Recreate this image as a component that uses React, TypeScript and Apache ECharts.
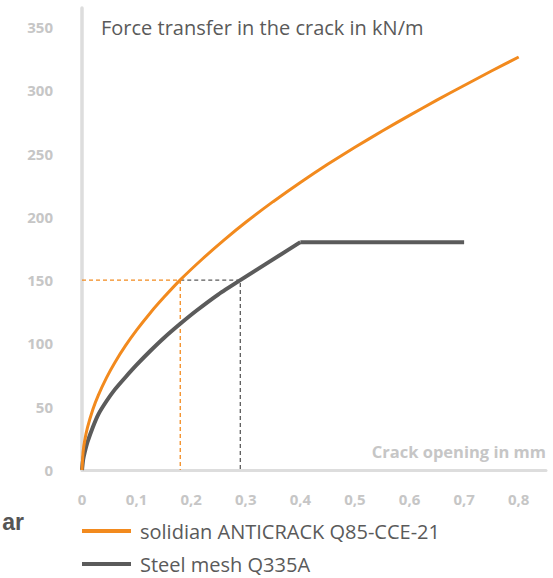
import React, { useEffect, useRef } from "react";
import * as echarts from "echarts";

// Crack opening (mm) and force transfer (kN/m)
const anticrackX = [0, 0.002, 0.005, 0.01, 0.02, 0.03, 0.045, 0.06, 0.08, 0.1, 0.125, 0.15, 0.18, 0.22, 0.26, 0.3, 0.35, 0.4, 0.45, 0.5, 0.55, 0.6, 0.65, 0.7, 0.75, 0.8];
const anticrackY = [0, 14.4, 23.2, 33.4, 48, 59.2, 73, 84.8, 98.4, 110.5, 124.1, 136.4, 150.2, 166.5, 181.6, 195.7, 212, 227.2, 241.5, 255, 267.8, 280.2, 292.2, 303.8, 315.2, 326.3];

const steelX = [0, 0.002, 0.005, 0.01, 0.02, 0.03, 0.045, 0.06, 0.08, 0.1, 0.125, 0.15, 0.18, 0.21, 0.25, 0.29, 0.345, 0.4];
const steelY = [0, 8, 14, 22, 34, 44, 54.5, 63.5, 73.5, 83, 94, 104.3, 115.5, 126, 138.8, 150, 165, 180];
const steelPlateauX = [0.4, 0.7];
const steelPlateauY = [180, 180];

const anticrackRefX = [0, 0.18, 0.18];
const anticrackRefY = [150, 150, 0];
const steelRefX = [0.18, 0.29, 0.29];
const steelRefY = [150, 150, 0];

const seriesNames = ["solidian ANTICRACK Q85-CCE-21", "Steel mesh Q335A"];
const titleText = "Force transfer in the crack in kN/m";
const xAxisTitle = "Crack opening in mm";

const ORANGE = "#f28a1e";
const GREY = "#5b5b5b";
const AXIS = "#dddddd";
const LABEL = "#c6c6c6";
const TEXT = "#5a5a5a";
const FONT = "'Open Sans', 'Noto Sans', sans-serif";

const zip = (xs: number[], ys: number[]) => xs.map((x, i) => [x, ys[i]]);

const legendBase = {
  orient: "vertical",
  left: 77,
  itemWidth: 49,
  itemHeight: 4,
  icon: "rect",
  selectedMode: false,
  textStyle: { color: TEXT, fontSize: 20, fontFamily: FONT, padding: [0, 0, 0, 4] },
};

export default function App() {
  const ref = useRef<HTMLDivElement>(null);
  useEffect(() => {
    if (!ref.current) return;
    const chart = echarts.init(ref.current, undefined, { renderer: "svg" });
    chart.setOption({
      animation: false,
      backgroundColor: "#ffffff",
      textStyle: { fontFamily: FONT },
      grid: { left: 82, right: 7, top: 8, bottom: 108, containLabel: false },
      xAxis: {
        type: "value",
        min: 0,
        max: 0.85,
        interval: 0.1,
        axisLine: { show: true, lineStyle: { color: AXIS, width: 3 } },
        axisTick: { show: false },
        splitLine: { show: false },
        axisLabel: {
          color: LABEL,
          fontFamily: FONT,
          fontWeight: "bold",
          fontSize: 15,
          margin: 21,
          showMaxLabel: false,
          formatter: (v: number) => {
            const r = Math.round(v * 10);
            if (Math.abs(v * 10 - r) > 0.01 || r > 8) return "";
            return r === 0 ? "0" : "0," + r;
          },
        },
      },
      yAxis: {
        type: "value",
        min: 0,
        max: 365,
        interval: 50,
        axisLine: { show: true, lineStyle: { color: AXIS, width: 3.5 } },
        axisTick: { show: false },
        splitLine: { show: false },
        axisLabel: {
          color: LABEL,
          fontFamily: FONT,
          fontWeight: "bold",
          fontSize: 15,
          margin: 29,
          formatter: (v: number) => (v % 50 === 0 ? String(v) : ""),
        },
      },
      legend: [
        { ...legendBase, top: 516, data: [seriesNames[0]] },
        { ...legendBase, top: 549, data: [seriesNames[1]] },
      ],
      graphic: [
        {
          type: "text",
          x: 101,
          y: 27,
          style: { text: titleText, fill: TEXT, font: `20px ${FONT}`, verticalAlign: "middle" },
        },
        {
          type: "text",
          x: 546,
          y: 451,
          style: {
            text: xAxisTitle,
            fill: LABEL,
            font: `bold 16.5px ${FONT}`,
            align: "right",
            verticalAlign: "middle",
          },
        },
        {
          type: "text",
          x: 24,
          y: 522,
          style: {
            text: "ar",
            fill: "#555555",
            font: "bold 23px 'Liberation Sans', Arial, sans-serif",
            align: "right",
            verticalAlign: "middle",
          },
        },
      ],
      series: [
        {
          name: "ref-anticrack",
          type: "line",
          data: zip(anticrackRefX, anticrackRefY),
          showSymbol: false,
          silent: true,
          z: 1,
          lineStyle: { color: ORANGE, width: 1.3, type: [4, 3] },
        },
        {
          name: "ref-steel",
          type: "line",
          data: zip(steelRefX, steelRefY),
          showSymbol: false,
          silent: true,
          z: 1,
          lineStyle: { color: GREY, width: 1.3, type: [4, 3] },
        },
        {
          name: seriesNames[1],
          type: "line",
          data: zip(steelX, steelY),
          showSymbol: false,
          smooth: 0.15,
          color: GREY,
          z: 3,
          lineStyle: { color: GREY, width: 4 },
        },
        {
          name: seriesNames[1],
          type: "line",
          data: zip(steelPlateauX, steelPlateauY),
          showSymbol: false,
          color: GREY,
          z: 3,
          lineStyle: { color: GREY, width: 4 },
        },
        {
          name: seriesNames[0],
          type: "line",
          data: zip(anticrackX, anticrackY),
          showSymbol: false,
          smooth: 0.15,
          color: ORANGE,
          z: 4,
          lineStyle: { color: ORANGE, width: 3 },
        },
      ],
    });
    return () => chart.dispose();
  }, []);
  return (
    <div
      ref={ref}
      style={{ position: "absolute", left: 0, top: 0, width: 553, height: 578 }}
    />
  );
}
